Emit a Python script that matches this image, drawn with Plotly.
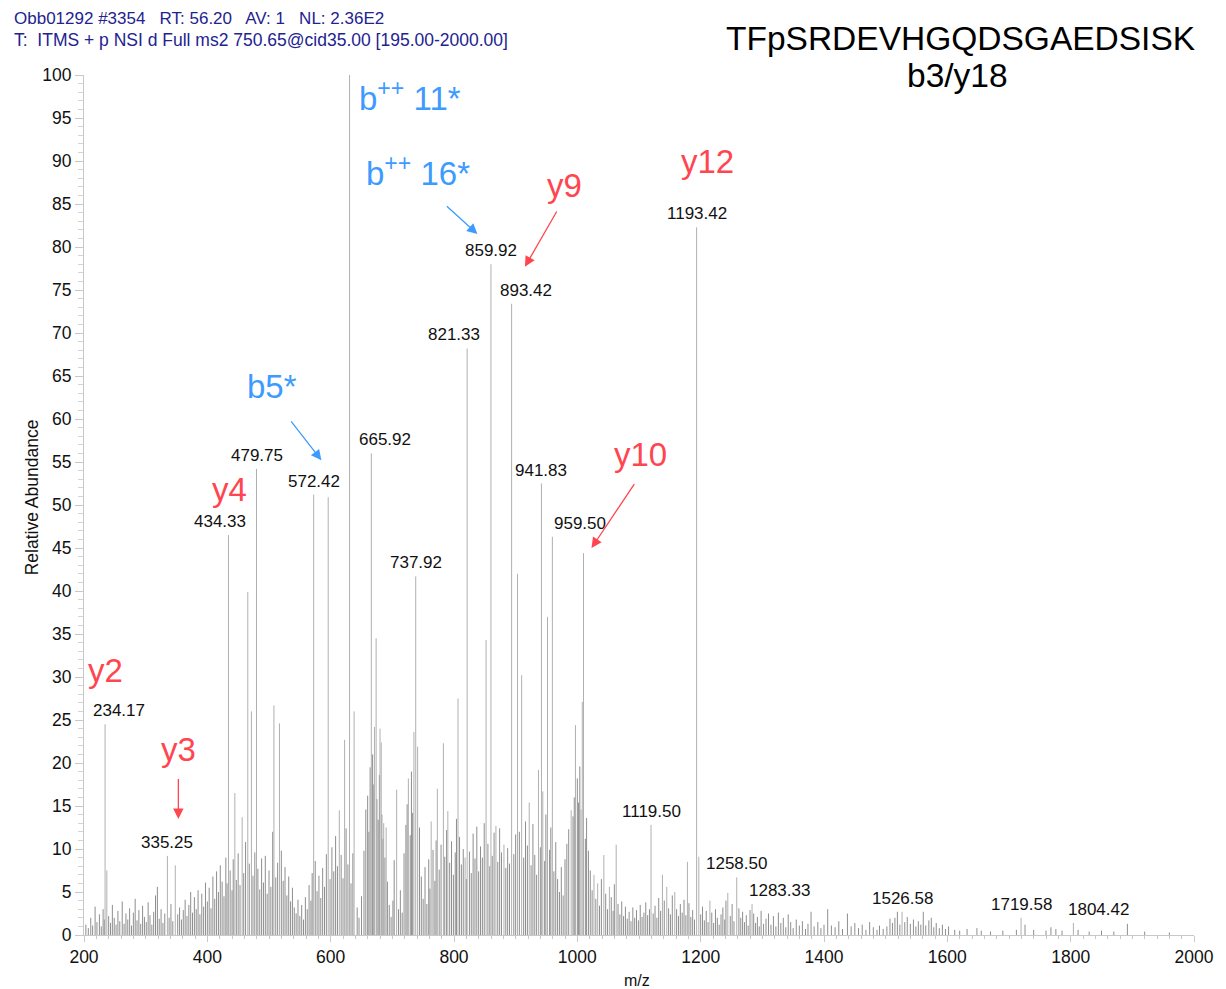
import plotly.graph_objects as go

# ---------------- spectrum data ----------------
# labelled centroid peaks (m/z, relative abundance)
label_mz = [234.17, 335.25, 434.33, 479.75, 572.42, 665.92, 737.92, 821.33,
            859.92, 893.42, 941.83, 959.50, 1119.50, 1193.42, 1258.50,
            1283.33, 1526.58, 1719.58, 1804.42]
label_ab = [24.5, 9.2, 46.5, 54.2, 51.2, 56.0, 41.7, 68.2,
            78.0, 73.4, 52.5, 46.3, 12.8, 82.3, 6.7,
            3.6, 2.7, 2.0, 1.4]

# base peak (b++ 11*) and other prominent unlabelled peaks
major_mz = [630.6, 237.0, 348.0, 444.6, 456.5, 465.6, 471.5, 508.0, 517.0,
            596.0, 614.0, 622.6, 638.0, 671.0, 673.7, 680.0, 682.0, 686.0,
            690.0, 707.0, 726.0, 735.0, 741.0, 763.0, 773.0, 782.8, 790.0,
            806.5, 818.0, 852.0, 868.0, 881.0, 903.0, 909.7, 922.0, 937.0,
            944.0, 951.6, 990.0, 997.0, 1006.0, 1008.0, 1010.0, 1027.0,
            1033.0, 1043.0, 1052.0, 1063.0, 1138.0, 1145.0, 1158.0, 1178.5,
            1197.0, 1215.0, 1244.0]
major_ab = [100.0, 7.5, 8.1, 16.5, 13.7, 39.9, 26.0, 26.7, 24.6,
            50.9, 14.5, 22.7, 26.0, 24.2, 34.5, 24.0, 22.4, 13.0,
            12.5, 16.9, 18.2, 23.6, 21.9, 13.2, 17.0, 22.3, 14.4,
            27.5, 9.0, 34.3, 12.7, 10.5, 42.0, 30.2, 15.4, 19.2,
            16.7, 37.0, 14.5, 24.4, 14.6, 27.1, 44.4, 7.0,
            6.0, 9.3, 5.6, 10.5, 7.0, 5.6, 5.0, 8.5,
            9.1, 4.0, 4.9]

# low-level fragment background
minor_mz = [203, 207, 211, 214, 218, 221, 225, 228, 231, 233, 240, 243, 246, 249,
            252, 255, 258, 262, 265, 268, 271, 274, 277, 280, 283, 286, 289, 292,
            295, 298, 301, 304, 307, 310, 313, 316, 319, 322, 325, 328, 331, 338,
            341, 344, 352, 355, 358, 361, 364, 367, 370, 373, 376, 379, 382, 385,
            388, 391, 394, 397, 400,
            403, 406, 409, 412, 415, 418, 421, 424, 427, 430, 432, 437, 440, 442,
            447, 450, 453, 459, 462, 468, 474, 477, 482, 485, 488, 491, 494, 497,
            500, 503, 506, 511, 514, 520, 523, 526, 529, 532, 535, 538, 541, 544,
            547, 550, 553, 556, 559, 562, 565, 568, 570, 575, 578, 581, 584, 587,
            590, 593, 599, 602, 605, 608, 611, 617, 620, 625, 628,
            633, 636, 643, 646, 650, 654, 657, 660, 662, 664, 668, 670, 675, 677,
            679, 683, 685, 688, 692, 695, 698, 701, 703, 710, 713, 716, 719, 722,
            724, 729, 731, 733, 744, 747, 750, 753, 756, 759, 761, 766, 769, 771,
            776, 779, 785, 788, 793, 796, 799, 802, 804, 809, 812, 815, 820, 825,
            828, 831, 834, 837, 840, 843, 846, 849, 855, 858, 862, 865, 871, 874,
            877, 884, 887, 890, 897, 900, 906, 913, 916, 919, 925, 928, 931, 934,
            940, 947, 949, 955, 957, 962, 965, 968, 971, 974, 977, 980, 983, 986,
            993, 995, 1000, 1002, 1004, 1013, 1015, 1018, 1021, 1024, 1030, 1036,
            1039, 1046, 1049, 1055, 1058, 1060, 1066, 1069, 1072, 1075, 1078, 1081,
            1084, 1087, 1090, 1093, 1096, 1099, 1102, 1105, 1108, 1111, 1114, 1117,
            1123, 1126, 1129, 1132, 1135, 1141, 1148, 1151, 1154, 1161, 1164, 1167,
            1170, 1173, 1176, 1181, 1184, 1187, 1190, 1200, 1203, 1206, 1209, 1212,
            1218, 1221, 1224, 1227, 1230, 1233, 1236, 1239, 1241, 1248, 1251, 1254,
            1262, 1265, 1268, 1271, 1274, 1277, 1280, 1286, 1289, 1292, 1295, 1298,
            1302, 1306, 1310, 1314, 1318, 1322, 1326, 1330, 1334, 1338, 1342, 1346,
            1350, 1355, 1360, 1365, 1370, 1374, 1379, 1384, 1390, 1395, 1400, 1406,
            1412, 1418, 1424, 1430, 1438, 1444, 1450, 1456, 1462, 1468, 1474, 1480,
            1486, 1490, 1496, 1502, 1507, 1511, 1515, 1519, 1523, 1531, 1535, 1540,
            1545, 1549, 1553, 1557, 1561, 1565, 1570, 1574, 1578, 1582, 1587, 1592,
            1597, 1602, 1612, 1620, 1632, 1648, 1655, 1670, 1690, 1712, 1726, 1740,
            1760, 1768, 1776, 1786, 1812, 1830, 1850, 1870, 1892, 1920, 1960]
minor_ab = [1.2, 0.8, 2.0, 1.1, 3.3, 1.5, 2.4, 1.0, 3.0, 1.8, 2.2, 1.4, 3.5, 2.0,
            1.2, 2.8, 1.6, 3.9, 1.3, 2.5, 1.8, 3.1, 1.1, 2.6, 4.2, 1.7, 2.9, 1.3,
            3.4, 2.1, 1.5, 3.8, 2.3, 1.2, 2.7, 4.6, 5.6, 1.9, 3.0, 1.4, 2.5, 2.0,
            3.6, 1.6, 2.4, 3.2, 1.8, 2.9, 4.1, 2.2, 3.5, 5.0, 2.6, 4.4, 3.0, 5.2,
            2.4, 4.8, 3.3, 6.1, 3.9,
            5.5, 3.1, 6.8, 4.2, 7.4, 5.0, 8.1, 6.2, 4.5, 9.0, 6.0, 7.5, 5.2, 8.8,
            6.4, 9.5, 5.8, 7.2, 10.8, 8.3, 6.9, 9.6, 7.7, 5.3, 8.9, 6.1, 9.2, 4.8,
            7.5, 5.6, 12.0, 6.7, 8.4, 9.8, 6.3, 7.9, 4.6, 6.8, 3.9, 5.5, 3.2, 2.5,
            4.1, 2.2, 3.5, 1.8, 4.4, 3.0, 5.8, 4.0, 7.2, 8.6, 5.1, 6.9, 4.3, 7.8,
            5.6, 9.4, 6.5, 10.2, 7.4, 11.5, 8.0, 9.3, 6.6, 12.4, 8.2,
            6.0, 9.5, 3.2, 2.0, 4.5, 9.8, 14.6, 16.2, 12.0, 19.5, 21.0, 17.5, 15.8, 13.4,
            18.6, 14.0, 11.2, 9.0, 6.2, 3.5, 2.1, 4.0, 8.7, 3.0, 5.2, 2.6, 9.5, 12.8,
            15.2, 11.6, 19.0, 14.2, 12.5, 6.8, 4.2, 7.9, 3.6, 8.8, 5.4, 9.9, 6.3, 11.0,
            7.6, 10.5, 9.1, 12.2, 8.4, 10.9, 7.0, 9.6, 13.5, 11.4, 8.2, 10.0, 6.5, 9.7,
            7.2, 11.8, 8.9, 12.6, 7.4, 10.3, 9.0, 13.0, 10.6, 8.0, 9.2, 11.9, 8.5, 12.4,
            9.6, 7.8, 10.1, 8.3, 9.4, 11.7, 12.0, 9.0, 13.2, 10.4, 8.1, 12.9, 9.3, 7.0,
            10.2, 8.6, 14.0, 9.9, 12.5, 7.4, 10.8, 6.5, 5.0, 7.9, 4.6, 8.8, 10.6, 12.3,
            13.8, 16.0, 18.2, 15.4, 19.6, 11.2, 13.6, 9.8, 7.5, 5.2, 4.2, 3.4,
            6.5, 4.8, 3.0, 4.4, 2.8, 5.9, 3.6, 2.4, 3.9, 2.2, 3.3, 1.9,
            2.7, 1.6, 3.2, 2.0, 2.9, 1.7, 3.5, 2.1, 2.6, 3.8, 2.3, 3.0,
            2.5, 3.4, 2.0, 4.3, 2.8, 4.0, 3.1, 2.4, 4.6, 3.0, 2.2, 3.6,
            2.6, 4.1, 2.3, 3.7, 2.1, 2.9, 1.8, 2.4, 3.3, 1.7, 2.8, 1.5,
            2.6, 1.4, 3.0, 2.0, 1.2, 2.4, 3.2, 1.8, 4.0, 2.2, 3.6, 1.6,
            3.1, 2.0, 2.7, 1.5, 2.3, 1.1, 2.9, 2.5, 1.4, 2.1, 1.0, 2.8,
            1.3, 1.9, 2.5, 1.2, 2.2, 1.0, 2.6, 1.4, 2.0, 0.9, 2.4, 1.5,
            0.8, 1.8, 1.1, 1.6, 0.7, 1.3, 2.7, 1.0, 1.5, 0.8, 1.2, 3.0,
            1.1, 0.9, 1.6, 0.7, 2.5, 1.0, 1.4, 0.8, 1.2, 0.6, 1.5, 0.9,
            0.6, 1.1, 0.7, 1.0, 1.9, 1.4, 2.0, 2.7, 1.2, 1.5, 2.1, 1.3,
            1.8, 1.0, 1.6, 1.2, 2.7, 1.1, 1.7, 2.0, 0.9, 1.4, 0.8, 1.2,
            0.7, 1.0, 0.6, 0.5, 0.7, 0.8, 0.5, 0.4, 0.5, 0.6, 1.2, 0.6,
            0.5, 0.9, 0.7, 0.5, 0.6, 0.4, 0.5, 0.4, 1.3, 0.4, 0.3]

# fragment ion assignments
ion_text = ["b<sup>++</sup> 11*", "b<sup>++</sup> 16*", "b5*",
            "y2", "y3", "y4", "y9", "y10", "y12"]
ion_kind = ["b", "b", "b", "y", "y", "y", "y", "y", "y"]

header_1 = "Obb01292 #3354   RT: 56.20   AV: 1   NL: 2.36E2"
header_2 = "T:  ITMS + p NSI d Full ms2 750.65@cid35.00 [195.00-2000.00]"
peptide = "TFpSRDEVHGQDSGAEDSISK"
subtitle = "b3/y18"

# ---------------- styling / placement ----------------
W, H = 1226, 989
M = dict(l=84, r=26, t=75, b=54)
FONT = "Arial, Liberation Sans, Helvetica, sans-serif"
COLORS = {"b": "#3d9bff", "y": "#ff4650"}

# ion label centres (m/z, abundance) and arrow (tail -> head) in data coordinates
ion_pos = [(728, 97.6), (742, 88.8), (505, 63.8),
           (235.5, 30.8), (353, 21.6), (435.5, 51.8),
           (979, 87.2), (1102, 55.9), (1211, 89.9)]
ion_arrow = [None, ((786, 84.9), (838, 81.5)), ((534, 59.9), (585, 55.2)),
             None, ((353, 18.3), (353, 13.5)), None,
             ((968, 84.3), (915, 77.7)), ((1094, 52.6), (1023, 45.0)), None]

# horizontal pixel nudges of peak labels
label_dx = {234.17: 14, 434.33: -9, 665.92: 14, 821.33: -13, 893.42: 14,
            959.50: 28, 1283.33: 27, 1804.42: 25}


def sticks(mz, ab):
    xs, ys = [], []
    for m, a in zip(mz, ab):
        xs += [m, m, None]
        ys += [0, a, None]
    return xs, ys


fig = go.Figure()
for mz, ab, col in [(minor_mz, minor_ab, "#8e8e8e"),
                    (major_mz, major_ab, "#b0b0b0"),
                    (label_mz, label_ab, "#b0b0b0")]:
    xs, ys = sticks(mz, ab)
    fig.add_trace(go.Scatter(x=xs, y=ys, mode="lines",
                             line=dict(color=col, width=1),
                             hoverinfo="skip", showlegend=False))

ann = []
# peak m/z labels
for m, a in zip(label_mz, label_ab):
    ann.append(dict(x=m, y=a, xref="x", yref="y", text=f"{m:.2f}",
                    showarrow=False, xanchor="center", yanchor="bottom",
                    xshift=label_dx.get(m, 0), yshift=2,
                    font=dict(family=FONT, size=17, color="#111")))

# ion assignments and arrows
for txt, kind, (px, py), arr in zip(ion_text, ion_kind, ion_pos, ion_arrow):
    ann.append(dict(x=px, y=py, xref="x", yref="y", text=txt, showarrow=False,
                    xanchor="center", yanchor="middle",
                    font=dict(family=FONT, size=33, color=COLORS[kind])))
    if arr is not None:
        (tx, ty), (hx, hy) = arr
        ann.append(dict(x=hx, y=hy, ax=tx, ay=ty, xref="x", yref="y",
                        axref="x", ayref="y", text="", showarrow=True,
                        arrowhead=2, arrowsize=1.6, arrowwidth=1.3,
                        arrowcolor=COLORS[kind]))


def paper(px, py):
    return ((px - M["l"]) / (W - M["l"] - M["r"]),
            (H - M["b"] - py) / (H - M["t"] - M["b"]))


hx, hy = paper(12, 18)
ann.append(dict(x=hx, y=hy, xref="paper", yref="paper", text=header_1,
                showarrow=False, xanchor="left", yanchor="middle",
                font=dict(family=FONT, size=17, color="#23238f")))
hx, hy = paper(12, 40)
ann.append(dict(x=hx, y=hy, xref="paper", yref="paper", text=header_2,
                showarrow=False, xanchor="left", yanchor="middle",
                font=dict(family=FONT, size=17.5, color="#23238f")))
tx, ty = paper(965, 38)
ann.append(dict(x=tx, y=ty, xref="paper", yref="paper", text=peptide,
                showarrow=False, xanchor="center", yanchor="middle",
                font=dict(family=FONT, size=33.5, color="#000")))
tx, ty = paper(962, 75)
ann.append(dict(x=tx, y=ty, xref="paper", yref="paper", text=subtitle,
                showarrow=False, xanchor="center", yanchor="middle",
                font=dict(family=FONT, size=33.5, color="#000")))
# axis titles
tx, ty = paper(640, 980)
ann.append(dict(x=tx, y=ty, xref="paper", yref="paper", text="m/z",
                showarrow=False, xanchor="center", yanchor="middle",
                font=dict(family=FONT, size=16, color="#111")))
tx, ty = paper(32, 497)
ann.append(dict(x=tx, y=ty, xref="paper", yref="paper", text="Relative Abundance",
                showarrow=False, xanchor="center", yanchor="middle", textangle=-90,
                font=dict(family=FONT, size=17.5, color="#111")))

axis_common = dict(showgrid=False, zeroline=False, showline=True,
                   linecolor="#c8c8c8", linewidth=1, ticks="outside",
                   tickcolor="#c8c8c8", tickfont=dict(family=FONT, size=17.5, color="#111"))

fig.update_layout(
    width=W, height=H, margin=M,
    paper_bgcolor="white", plot_bgcolor="white",
    hovermode=False, showlegend=False,
    annotations=ann,
    xaxis=dict(range=[200, 2000], tick0=200, dtick=200, ticklen=6,
               minor=dict(dtick=20, ticklen=3, ticks="outside", tickcolor="#c8c8c8"),
               **axis_common),
    yaxis=dict(range=[0, 100], tick0=0, dtick=5, ticklen=8,
               minor=dict(dtick=1, ticklen=5, ticks="outside", tickcolor="#d4d4d4"),
               **axis_common),
)

fig.write_html("out.html")
